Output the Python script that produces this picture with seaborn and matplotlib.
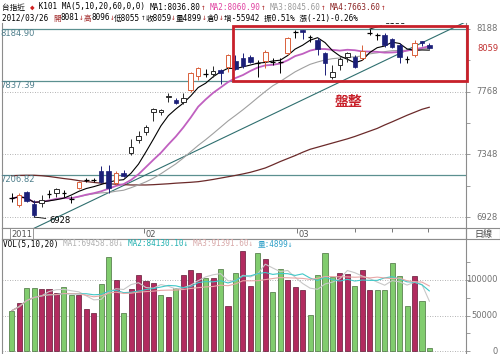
import numpy as np
import pandas as pd
import matplotlib
matplotlib.use("Agg")
import matplotlib.pyplot as plt
import matplotlib.transforms as mtransforms
from matplotlib.patches import Rectangle
import seaborn as sns

# 台指近 daily bars, end of Dec 2011 -> 2012/03/26
opens = [7056, 7009, 7098, 7016, 7024, 7080, 7089, 7093, 7051, 7121,
         7174, 7175, 7239, 7239, 7158, 7225, 7355, 7444, 7498, 7632,
         7632, 7730, 7712, 7701, 7779, 7873, 7886, 7886, 7913, 7935,
         7976, 7992, 7998, 7960, 7976, 7971, 7970, 8025, 8168, 8180,
         8138, 8114, 8029, 7864, 7947, 8002, 8002, 7992, 8160, 8150,
         8148, 8119, 8081, 7988, 8014, 8110, 8081]
highs = [7089, 7087, 7105, 7042, 7076, 7109, 7121, 7109, 7069, 7170,
         7188, 7188, 7270, 7277, 7239, 7243, 7451, 7507, 7545, 7656,
         7650, 7761, 7724, 7757, 7902, 7935, 7918, 7940, 7918, 8020,
         8014, 8025, 8014, 7980, 8047, 7992, 7992, 8132, 8182, 8184,
         8148, 8126, 8036, 7947, 8002, 8036, 8014, 8081, 8188, 8159,
         8159, 8126, 8092, 8007, 8114, 8110, 8096]
lows = [7029, 6997, 7031, 6928, 6997, 7054, 7064, 7064, 7020, 7115,
        7161, 7161, 7156, 7087, 7143, 7198, 7344, 7426, 7478, 7574,
        7612, 7701, 7686, 7686, 7768, 7846, 7864, 7868, 7820, 7900,
        7913, 7925, 7958, 7864, 7925, 7947, 7895, 8014, 8130, 8118,
        8103, 8014, 7880, 7851, 7913, 7969, 7925, 7980, 8148, 8114,
        8065, 8059, 7962, 7962, 8002, 8074, 8055]
closes = [7052, 7076, 7038, 6942, 7042, 7084, 7116, 7090, 7047, 7165,
          7178, 7178, 7165, 7121, 7225, 7203, 7395, 7471, 7531, 7652,
          7645, 7738, 7694, 7726, 7895, 7927, 7882, 7909, 7891, 8014,
          7918, 7940, 7969, 7956, 8036, 7967, 7967, 8126, 8172, 8165,
          8134, 8052, 7962, 7902, 7985, 8025, 7935, 8043, 8165, 8146,
          8081, 8065, 7998, 7983, 8096, 8096, 8059]
# 60 day average (needs older data)
ma60 = [7205, 7207, 7208, 7208, 7205, 7200, 7193, 7186, 7180, 7172,
        7166, 7160, 7155, 7151, 7148, 7145, 7143, 7143, 7143, 7145,
        7148, 7151, 7155, 7158, 7161, 7165, 7172, 7180, 7189, 7198,
        7207, 7217, 7228, 7242, 7257, 7278, 7300, 7320, 7340, 7362,
        7382, 7396, 7410, 7424, 7438, 7452, 7468, 7486, 7504, 7522,
        7545, 7566, 7588, 7610, 7630, 7650, 7664]
volumes = [56800, 68000, 88300, 88300, 86900, 86900, 81200, 90600, 78900, 78900,
           58700, 53100, 93900, 132900, 100000, 53100, 87800, 107000, 99000, 95300,
           78900, 75600, 88300, 107000, 114000, 110300, 102300, 103300, 115000, 63400,
           110300, 141300, 91500, 138500, 129600, 83600, 115500, 100000, 90600, 85900,
           50700, 107000, 137600, 103800, 110300, 108000, 91500, 114100, 85900, 85900,
           85900, 123500, 105600, 63400, 105600, 70400, 4899]
vol_up = [0, 1, 0, 0, 1, 1, 1, 0, 0, 1, 1, 1, 0, 0, 1, 0, 1, 1, 1, 1,
          0, 1, 0, 1, 1, 1, 0, 1, 0, 1, 0, 1, 1, 0, 1, 0, 0, 1, 1, 1,
          0, 0, 0, 0, 1, 1, 0, 1, 1, 0, 0, 0, 0, 0, 1, 0, 0]

ref_lines = [8184.90, 7837.39, 7206.82]
trend_x = [0, 61]
trend_y = [6781, 8239]
box_x = [29.6, 61.0]
box_y = [7842, 8208]
price_ticks = [6928, 7348, 7768, 8188]
price_minor = [6928, 7138, 7348, 7558, 7768, 7978, 8188]
vol_ticks = [0, 50000, 100000]
vol_minor = [0, 25000, 50000, 75000, 100000, 125000]
month_pos = [17.7, 38.2]
month_lab = ["02", "03"]
week_pos = [46, 51, 55.8]

sns.set_theme(style="white")
plt.rcParams["font.family"] = ["DejaVu Sans", "Noto Sans CJK TC"]
mono = ["DejaVu Sans Mono", "Noto Sans CJK TC"]

n = len(closes)
idx = np.arange(n)
close_s = pd.Series(closes, dtype=float)
ma5 = close_s.rolling(5, min_periods=1).mean()
ma10 = close_s.rolling(10, min_periods=1).mean()
ma20 = close_s.rolling(20, min_periods=1).mean()
vol_s = pd.Series(volumes, dtype=float)
vma5 = vol_s.rolling(5, min_periods=1).mean()
vma10 = vol_s.rolling(10, min_periods=1).mean()
vma20 = vol_s.rolling(20, min_periods=1).mean()

W, H = 500, 354
fig = plt.figure(figsize=(W / 100, H / 100), dpi=100)


def px_axes(x0, y0, x1, y1):
    return fig.add_axes([x0 / W, 1 - y1 / H, (x1 - x0) / W, (y1 - y0) / H])


ax = px_axes(2, 23, 466, 228)
axd = px_axes(2, 228, 466, 239)
axv = px_axes(2, 239, 466, 354)
xlim = (-1.3, 60.9)
grid_col = "#9a9a9a"
spine_col = "#8c8c8c"
navy = "#1b1f78"

# ---- price panel
for p in price_ticks:
    ax.axhline(p, color=grid_col, lw=0.6, ls=(0, (1, 2)), zorder=1)
for p in ref_lines:
    ax.axhline(p, color="#5b9090", lw=0.9, zorder=1)
    ax.text(0, p, f"{p:.2f}", transform=mtransforms.blended_transform_factory(fig.transFigure, ax.transData),
            va="top", ha="left", fontsize=6, color="#4f7f8c", clip_on=False)

ax.plot(trend_x, trend_y, color="#2f6f6f", lw=0.8, zorder=2)
sns.lineplot(x=idx, y=ma60, ax=ax, color="#6b2a2a", lw=0.9, zorder=2)
sns.lineplot(x=idx, y=ma20, ax=ax, color="#a0a0a0", lw=0.8, zorder=2)
sns.lineplot(x=idx, y=ma10, ax=ax, color="#c060c0", lw=1.3, zorder=2)
sns.lineplot(x=idx, y=ma5, ax=ax, color="black", lw=0.8, zorder=2)

for i in range(n):
    o, h, l, c = opens[i], highs[i], lows[i], closes[i]
    if abs(c - o) < 6:
        ax.vlines(i, l, h, color="black", lw=0.7, zorder=3)
        ax.hlines((o + c) / 2, i - 0.32, i + 0.32, color="black", lw=0.9, zorder=3)
    elif c > o:
        col = "#d9603b" if c - o >= 42 else "#2a2a2a"
        ax.vlines(i, l, o, color=col, lw=0.7, zorder=3)
        ax.vlines(i, c, h, color=col, lw=0.7, zorder=3)
        ax.add_patch(Rectangle((i - 0.3, o), 0.6, c - o, facecolor="white", edgecolor=col, lw=0.7, zorder=4))
    else:
        ax.vlines(i, l, h, color=navy, lw=0.7, zorder=3)
        ax.add_patch(Rectangle((i - 0.3, c), 0.6, o - c, facecolor=navy, edgecolor=navy, lw=0.5, zorder=4))

# high / low marks
lo_i = int(np.argmin(lows))
hi_i = int(np.argmax(highs))
ax.annotate(f"{lows[lo_i]}", xy=(lo_i, lows[lo_i]), xytext=(15, -3), textcoords="offset pixels",
            fontsize=6, va="center", ha="left", color="black",
            arrowprops=dict(arrowstyle="-", lw=0.6, color="black", shrinkA=0, shrinkB=0))
hi = ax.annotate(f"{highs[hi_i]}", xy=(hi_i, highs[hi_i]), xytext=(15, 7), textcoords="offset pixels",
                 fontsize=6, va="center", ha="left", color="black",
                 arrowprops=dict(arrowstyle="-", lw=0.6, color="black", shrinkA=0, shrinkB=0))
hi.set_clip_box(ax.bbox)
hi.set_clip_on(True)

ax.add_patch(Rectangle((box_x[0], box_y[0]), box_x[1] - box_x[0], box_y[1] - box_y[0],
                       fill=False, edgecolor="#c8202a", lw=2.0, zorder=6, clip_on=False))
ax.text(45.2, 7699, "盤整", fontsize=10, color="#c8202a", ha="center", va="center",
        family=["Noto Sans CJK TC"], fontweight="bold")

ax.set_xlim(*xlim)
ax.set_ylim(6854.7, 8228.2)
ax.set_xticks([])
ax.yaxis.tick_right()
ax.set_yticks(price_minor)
ax.tick_params(axis="y", length=3, width=0.6, colors=spine_col, labelright=False, labelleft=False)
ax.set_xlabel("")
ax.set_ylabel("")
for s in ["left", "right", "bottom"]:
    ax.spines[s].set_color(spine_col)
    ax.spines[s].set_linewidth(0.8)
ax.spines["top"].set_visible(False)

right_tr = mtransforms.blended_transform_factory(fig.transFigure, ax.transData)
for p in price_ticks:
    ax.text(498 / W, p, str(p), transform=right_tr, ha="right", va="center", fontsize=6,
            color="#707070", clip_on=False)
ax.text(498 / W, closes[-1], str(closes[-1]), transform=right_tr, ha="right", va="center",
        fontsize=6, color="#c03030", clip_on=False)

# ---- date strip
axd.set_xlim(*xlim)
axd.set_ylim(0, 1)
axd.set_xticks([])
axd.set_yticks([])
for s in axd.spines.values():
    s.set_color(spine_col)
    s.set_linewidth(0.8)
axd.text(-0.1, 0.45, "2011", fontsize=6, ha="left", va="center", color="#555555",
         bbox=dict(boxstyle="square,pad=0.15", fc="white", ec="#888888", lw=0.6))
for p, lab in zip(month_pos, month_lab):
    axd.vlines(p, 0.55, 1, color="#777777", lw=0.7)
    axd.text(p + 0.2, 0.45, lab, fontsize=6, ha="left", va="center", color="#555555")
for p in week_pos:
    axd.vlines(p, 0.6, 1, color="#777777", lw=0.7)
fig.text(483 / W, 1 - 234 / H, "日線", fontsize=6.5, ha="center", va="center", color="#444444",
         family=["Noto Sans CJK TC"])
fig.add_artist(Rectangle((466 / W, 1 - 239 / H), 34 / W, 11 / H, transform=fig.transFigure,
                         fill=False, edgecolor=spine_col, lw=0.8))

# ---- volume panel
for v in vol_ticks:
    axv.axhline(v, color=grid_col, lw=0.6, ls=(0, (1, 2)), zorder=1)
vol_df = pd.DataFrame({"idx": idx, "vol": volumes,
                       "side": np.where(np.array(vol_up) == 1, "up", "down")})
sns.barplot(data=vol_df, x="idx", y="vol", hue="side", palette={"up": "#c8155a", "down": "#78dc5e"},
            dodge=False, width=0.68, native_scale=True, errorbar=None, legend=False, ax=axv, zorder=2)
for patch in axv.patches:
    fc = np.array(patch.get_facecolor())
    patch.set_edgecolor(tuple(fc[:3] * 0.55) + (1,))
    patch.set_linewidth(0.5)
sns.lineplot(x=idx, y=vma5, ax=axv, color="#c8c8c8", lw=0.8, zorder=3)
sns.lineplot(x=idx, y=vma10, ax=axv, color="#40c8c8", lw=0.8, zorder=3)
sns.lineplot(x=idx, y=vma20, ax=axv, color="#e8a8a8", lw=0.8, zorder=3)
axv.set_xlim(*xlim)
axv.set_ylim(-4225, 157746)
axv.set_xticks([])
axv.yaxis.tick_right()
axv.set_yticks(vol_minor)
axv.tick_params(axis="y", length=3, width=0.6, colors=spine_col, labelright=False, labelleft=False)
axv.set_xlabel("")
axv.set_ylabel("")
for s in ["left", "right", "top"]:
    axv.spines[s].set_color(spine_col)
    axv.spines[s].set_linewidth(0.8)
axv.spines["bottom"].set_visible(False)
vright_tr = mtransforms.blended_transform_factory(fig.transFigure, axv.transData)
for v in vol_ticks:
    axv.text(498 / W, v, str(v), transform=vright_tr, ha="right", va="center", fontsize=6,
             color="#707070", clip_on=False)


# ---- header lines (multi coloured)
def color_line(x, y, parts, size=5.5):
    tr = fig.transFigure
    rend = fig.canvas.get_renderer()
    for s, c in parts:
        t = fig.text(x, y, s, color=c, transform=tr, fontsize=size, family=mono, va="center")
        ex = t.get_window_extent(renderer=rend)
        tr = mtransforms.offset_copy(t.get_transform(), x=ex.width, units="dots")


up, dn = "#b03030", "#b03030"
color_line(2 / W, 1 - 7 / H, [
    ("台指近 ", "black"), ("◆", "#d02020"), (" K101 MA(5,10,20,60,0,0) ", "black"),
    ("MA1:8036.80", "black"), ("↑ ", up), ("MA2:8060.90", "#e040a0"), ("↑ ", up),
    ("MA3:8045.60", "#9a9a9a"), ("↑ ", up), ("MA4:7663.60", "#8b2323"), ("↑", up)])
color_line(2 / W, 1 - 18 / H, [
    ("2012/03/26 ", "black"), ("開", "#a02828"), ("8081", "black"), ("↓", dn),
    ("高", "#a02828"), ("8096", "black"), ("↓", dn), ("低8055", "black"), ("↑", "#303030"),
    ("收8059", "black"), ("↓", dn), ("量4899", "black"), ("↓", dn), ("倉0", "black"), ("↓", dn),
    ("增-55942 振0.51% 漲(-21)-0.26%", "black")])
color_line(3 / W, 1 - 244 / H, [
    ("VOL(5,10,20) ", "black"), ("MA1:69458.80↓ ", "#b0b0b0"), ("MA2:84130.10↓ ", "#20b0b0"),
    ("MA3:91391.60↓ ", "#d8a8a8"), ("量:4899↓", "#30a0c8")])

fig.savefig("out.png", dpi=100)
